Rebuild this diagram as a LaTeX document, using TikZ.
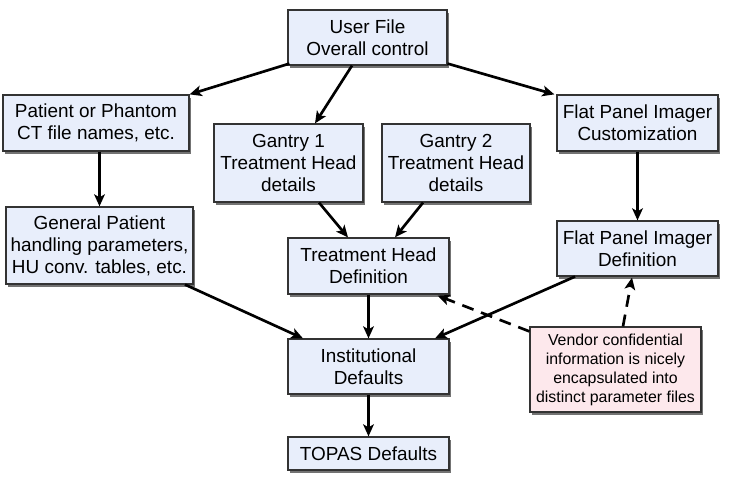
\documentclass[tikz,border=0pt]{standalone}
\usepackage{fontspec}
\setmainfont{Liberation Sans}
\usetikzlibrary{arrows.meta,shadows,calc}
\definecolor{boxblue}{HTML}{E8EEFB}
\definecolor{boxpink}{HTML}{FDE8EC}
\definecolor{boxline}{HTML}{333333}
\tikzset{
  sz/.style 2 args={minimum width=#1*0.75pt, minimum height=#2*0.75pt},
  box/.style={draw=boxline, line width=0.9pt, fill=boxblue, align=center,
    inner sep=0pt, font=\fontsize{14.2}{16.5}\selectfont,
    drop shadow={shadow xshift=1.4pt, shadow yshift=-2pt, opacity=0.55, fill=black}},
  notebox/.style={box, fill=boxpink, font=\fontsize{11.9}{14.2}\selectfont},
  arr/.style={line width=2pt, -{Stealth[length=9pt,width=8pt,inset=2.2pt]}},
  darr/.style={arr, dash pattern=on 9pt off 6pt}
}
\begin{document}
\begin{tikzpicture}[x=0.75pt,y=-0.75pt]
\useasboundingbox (0,0) rectangle (732,484);
\fill[white] (0,0) rectangle (732,484);

\node[box, sz={159}{55}] (uf) at (367.5,37.5) {User File\\Overall control};
\node[box, sz={186}{56}] (pat) at (96,123) {Patient or Phantom\\CT file names, etc.};
\node[box, sz={149}{78}] (g1) at (288.5,163) {Gantry 1\\Treatment Head\\details};
\node[box, sz={148}{78}] (g2) at (456,163) {Gantry 2\\Treatment Head\\details};
\node[box, sz={161}{56}] (fpc) at (637.5,123) {Flat Panel Imager\\Customization};
\node[box, sz={187}{77}] (gen) at (99.5,245.5) {General Patient\\handling parameters,\\HU conv. tables, etc.};
\node[box, sz={161}{56}] (thd) at (368.5,266) {Treatment Head\\Definition};
\node[box, sz={161}{55}] (fpd) at (637.5,248.5) {Flat Panel Imager\\Definition};
\node[box, sz={161}{55}] (inst) at (368.5,366.5) {Institutional\\Defaults};
\node[box, sz={161}{33}] (topas) at (368.5,453.5) {TOPAS Defaults};
\node[notebox, sz={171}{85}] (vend) at (615.5,369.5) {Vendor confidential\\information is nicely\\encapsulated into\\distinct parameter files};

\draw[arr] ($(uf.south west)+(2,-2)$) -- (pat.north east);
\draw[arr] ($(uf.south)+(-15.5,0)$) -- ($(g1.north)+(26.5,0)$);
\draw[arr] ($(uf.south east)+(0,-2)$) -- ($(fpc.north west)+(-2,0)$);
\draw[arr] (pat.south -| gen.north) -- (gen.north);
\draw[arr] ($(g1.south)+(30.5,0)$) -- ($(thd.north)+(-20.5,0)$);
\draw[arr] ($(g2.south)+(-33,0)$) -- ($(thd.north)+(26.5,0)$);
\draw[arr] (fpc.south) -- (fpd.north);
\draw[arr] ($(gen.south)+(85.5,0)$) -- ($(inst.north)+(-65.5,0)$);
\draw[arr] (thd.south) -- (inst.north);
\draw[arr] ($(fpd.south)+(-62.5,0)$) -- ($(inst.north)+(66.5,0)$);
\draw[arr] (inst.south) -- (topas.north);
\draw[darr] ($(vend.north west)+(0,5)$) -- ($(thd.south east)+(-12,1)$);
\draw[darr] ($(vend.north)+(7.5,0)$) -- ($(fpd.south)+(-5.5,1)$);
\end{tikzpicture}
\end{document}
